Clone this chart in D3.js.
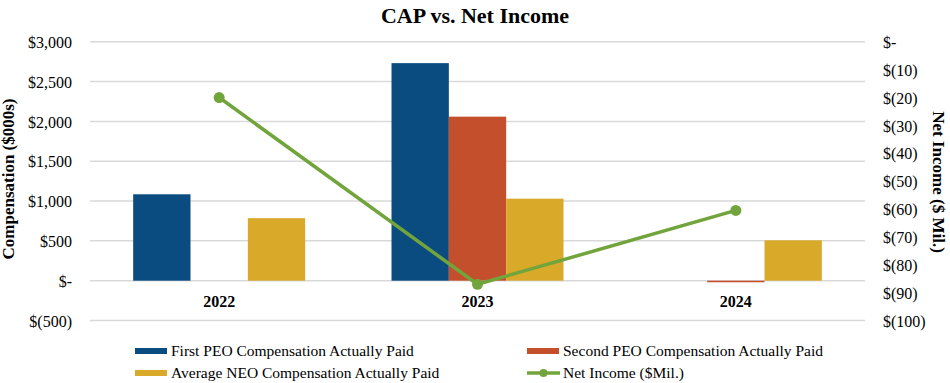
<!DOCTYPE html>
<html><head><meta charset="utf-8">
<script src="https://cdn.jsdelivr.net/npm/d3@7"></script>
<style>
body{margin:0;background:#fff;}
text{font-family:"Liberation Serif","Times New Roman",serif;fill:#000;}
</style></head>
<body><svg id="c" width="950" height="383"></svg>
<script>
const years = ["2022","2023","2024"];
const seriesNames = ["First PEO Compensation Actually Paid","Second PEO Compensation Actually Paid","Average NEO Compensation Actually Paid"];
const firstPEO = [1085, 2732, null];
const secondPEO = [null, 2060, -20];
const avgNEO = [785, 1030, 507];
const netIncome = [-20, -87, -60.5];
const leftTicks = [-500, 0, 500, 1000, 1500, 2000, 2500, 3000];
const rightTicks = [0, -10, -20, -30, -40, -50, -60, -70, -80, -90, -100];
const colors = ["#0a4c80","#c44f2d","#d9a92a"];
const lineColor = "#72a43c";

const svg = d3.select("#c");
const x = d3.scaleBand().domain(years).range([90, 865]).paddingInner(0).paddingOuter(0);
const xs = d3.scaleBand().domain([0,1,2]).range([0, x.bandwidth()]).paddingInner(0).paddingOuter(0.753);
const yL = d3.scaleLinear().domain([-500, 3000]).range([320.5, 41.8]);
const yR = d3.scaleLinear().domain([-100, 0]).range([320.5, 41.8]);

const fmtL = v => v === 0 ? "$-" : v < 0 ? "$(" + d3.format(",")(-v) + ")" : "$" + d3.format(",")(v);
const fmtR = v => v === 0 ? "$-" : "$(" + (-v) + ")";

// gridlines
svg.append("g").selectAll("line").data(leftTicks).join("line")
  .attr("x1", 90).attr("x2", 865)
  .attr("y1", d => yL(d)).attr("y2", d => yL(d))
  .attr("stroke", "#d9d9d9").attr("stroke-width", 1.5);

// left axis
const gl = svg.append("g").attr("transform", "translate(72,0)")
  .call(d3.axisLeft(yL).tickValues(leftTicks).tickFormat(fmtL).tickSize(0).tickPadding(0))
  .attr("font-family", '"Liberation Serif",serif');
gl.select(".domain").remove();
gl.selectAll("text").style("font-size", "16px").attr("dy", "0.35em");

// right axis
const gr = svg.append("g").attr("transform", "translate(883,0)")
  .call(d3.axisRight(yR).tickValues(rightTicks).tickFormat(fmtR).tickSize(0).tickPadding(0))
  .attr("font-family", '"Liberation Serif",serif');
gr.select(".domain").remove();
gr.selectAll("text").style("font-size", "16px").attr("dy", "0.35em");

// bars
const data = [firstPEO, secondPEO, avgNEO];
data.forEach((arr, si) => {
  svg.append("g").selectAll("rect").data(arr.map((v,i)=>({v, yr: years[i]})).filter(d => d.v !== null)).join("rect")
    .attr("x", d => x(d.yr) + xs(si))
    .attr("width", xs.bandwidth())
    .attr("y", d => Math.min(yL(d.v), yL(0)))
    .attr("height", d => Math.abs(yL(d.v) - yL(0)))
    .attr("fill", colors[si]);
});

// category labels
svg.append("g").selectAll("text").data(years).join("text")
  .attr("x", d => x(d) + x.bandwidth()/2).attr("y", 306.5)
  .attr("text-anchor", "middle").style("font-size", "16px").style("font-weight", "bold").text(d => d);

// line
const line = d3.line().x((d,i) => x(years[i]) + x.bandwidth()/2).y(d => yR(d));
svg.append("path").datum(netIncome).attr("d", line).attr("fill", "none")
  .attr("stroke", lineColor).attr("stroke-width", 3.5).attr("stroke-linejoin", "round");
svg.append("g").selectAll("circle").data(netIncome).join("circle")
  .attr("cx", (d,i) => x(years[i]) + x.bandwidth()/2).attr("cy", d => yR(d))
  .attr("r", 5.5).attr("fill", lineColor);

// title
svg.append("text").attr("x", 475).attr("y", 23).attr("text-anchor", "middle")
  .style("font-size", "22px").style("font-weight", "bold").text("CAP vs. Net Income");

// axis titles
svg.append("text").attr("transform", "translate(14,179) rotate(-90)").attr("text-anchor", "middle")
  .style("font-size", "17px").style("font-weight", "bold").text("Compensation ($000s)");
svg.append("text").attr("transform", "translate(933,182) rotate(90)").attr("text-anchor", "middle")
  .style("font-size", "17px").style("font-weight", "bold").text("Net Income ($ Mil.)");

// legend
const leg = [
  {name: seriesNames[0], type: "bar", c: colors[0], x: 135, y: 351},
  {name: seriesNames[1], type: "bar", c: colors[1], x: 527, y: 351},
  {name: seriesNames[2], type: "bar", c: colors[2], x: 135, y: 373},
  {name: "Net Income ($Mil.)", type: "line", c: lineColor, x: 527, y: 373}
];
const lg = svg.append("g").selectAll("g").data(leg).join("g").attr("transform", d => `translate(${d.x},${d.y})`);
lg.filter(d => d.type === "bar").append("rect").attr("x", 0).attr("y", -3).attr("width", 32).attr("height", 6).attr("fill", d => d.c);
lg.filter(d => d.type === "line").append("line").attr("x1", 0).attr("x2", 33).attr("stroke", d => d.c).attr("stroke-width", 3.5);
lg.filter(d => d.type === "line").append("circle").attr("cx", 16.5).attr("r", 4).attr("fill", d => d.c);
lg.append("text").attr("x", 36).attr("y", 0).attr("dy", "0.35em").style("font-size", "15.5px").text(d => d.name);
</script></body></html>
